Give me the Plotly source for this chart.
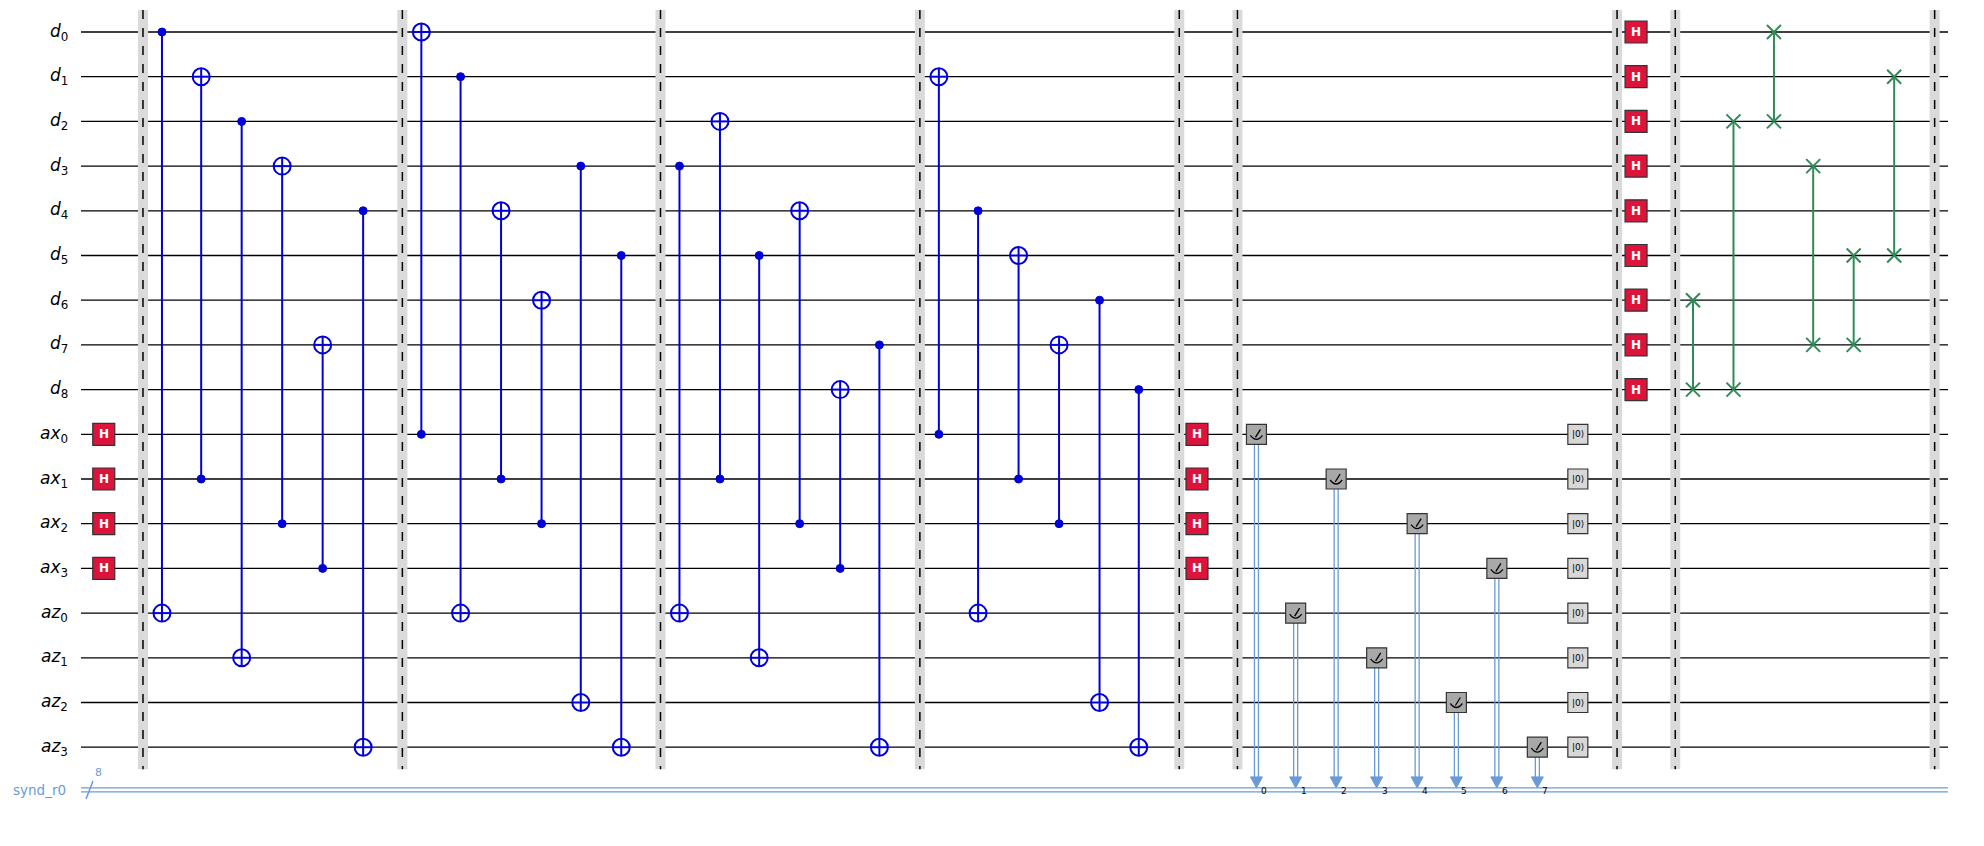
import plotly.graph_objects as go

# register layout
qubits = [f"d{i}" for i in range(9)] + [f"ax{i}" for i in range(4)] + [f"az{i}" for i in range(4)]
creg_name = "synd_r0"
creg_size = 8

# gate columns (x in display px of a 1568 wide render, scaled later)
h_first = [(82, q) for q in ["ax0", "ax1", "ax2", "ax3"]]
barriers = [113, 318, 522, 727, 932, 978, 1278, 1324, 1529]
# (x, control, target)
cnots = [
    (128, "d0", "az0"), (159, "ax1", "d1"), (191, "d2", "az1"), (223, "ax2", "d3"), (255, "ax3", "d7"), (287, "d4", "az3"),
    (333, "ax0", "d0"), (364, "d1", "az0"), (396, "ax1", "d4"), (428, "ax2", "d6"), (459, "d3", "az2"), (491, "d5", "az3"),
    (537, "d3", "az0"), (569, "ax1", "d2"), (600, "d5", "az1"), (632, "ax2", "d4"), (664, "ax3", "d8"), (695, "d7", "az3"),
    (742, "ax0", "d1"), (773, "d4", "az0"), (805, "ax1", "d5"), (837, "ax2", "d7"), (869, "d6", "az2"), (900, "d8", "az3"),
]
h_mid = [(946, q) for q in ["ax0", "ax1", "ax2", "ax3"]]
# (x, qubit, clbit)
measures = [(993, "ax0", 0), (1024, "az0", 1), (1056, "ax1", 2), (1088, "az1", 3),
            (1120, "ax2", 4), (1151, "az2", 5), (1183, "ax3", 6), (1215, "az3", 7)]
resets = [(1247, q) for q in ["ax0", "ax1", "ax2", "ax3", "az0", "az1", "az2", "az3"]]
h_last = [(1293, f"d{i}") for i in range(9)]
swaps = [(1338, "d6", "d8"), (1370, "d2", "d8"), (1402, "d0", "d2"),
         (1433, "d3", "d7"), (1465, "d5", "d7"), (1497, "d1", "d5")]

S = 1984 / 1568
Y0, DY = 32, 44.7
X_START, X_END = 81, 1948
Y_C = Y0 + DY * len(qubits) - 2
PAD = 8  # page body margin

def X(v):
    return v * S

def Y(q):
    return Y0 + DY * qubits.index(q)

BLUE = "#0000D8"
GREEN = "#2E8B57"
RED = "#DC143C"
CL = "#6A9BD8"

shapes = []
ann = []

def line(x0, y0, x1, y1, color="black", w=1.3, dash=None):
    shapes.append(dict(type="line", x0=x0, y0=y0, x1=x1, y1=y1,
                       line=dict(color=color, width=w, dash=dash), layer="above"))

def box(x, y, half, fill, border="#333333"):
    shapes.append(dict(type="rect", x0=x - half, y0=y - half, x1=x + half, y1=y + half,
                       fillcolor=fill, line=dict(color=border, width=1.2), layer="above"))

# wires
for q in qubits:
    line(X_START, Y(q), X_END, Y(q))
    sub = q[-1]
    ann.append(dict(x=70, y=Y(q), text=f"<i>{q[:-1]}</i><sub>{sub}</sub>", showarrow=False,
                    xanchor="right", font=dict(size=17, color="black")))

# classical register
line(X_START, Y_C - 2, X_END, Y_C - 2, CL, 1.3)
line(X_START, Y_C + 2, X_END, Y_C + 2, CL, 1.3)
line(86, Y_C + 9, 93, Y_C - 9, CL, 1.5)
ann.append(dict(x=98, y=Y_C - 17, text=str(creg_size), showarrow=False, font=dict(size=11, color=CL)))
ann.append(dict(x=68, y=Y_C, text=creg_name, showarrow=False, xanchor="right", font=dict(size=13.5, color=CL)))

# barriers
for b in barriers:
    x = X(b)
    shapes.append(dict(type="rect", x0=x - 5, x1=x + 5, y0=Y0 - 22, y1=Y(qubits[-1]) + 22,
                       fillcolor="#DADADA", line=dict(width=0), layer="above"))
    line(x, Y0 - 22, x, Y(qubits[-1]) + 22, "black", 1.5, "dash")

# H gates
for x, q in h_first + h_mid + h_last:
    box(X(x), Y(q), 11, RED)
    ann.append(dict(x=X(x), y=Y(q), text="<b>H</b>", showarrow=False, font=dict(size=12, color="white")))

# CNOTs
for x, c, t in cnots:
    xx = X(x)
    line(xx, Y(c), xx, Y(t), BLUE, 2)
    shapes.append(dict(type="circle", x0=xx - 4, x1=xx + 4, y0=Y(c) - 4, y1=Y(c) + 4,
                       fillcolor=BLUE, line=dict(color=BLUE, width=1), layer="above"))
    r = 8.5
    shapes.append(dict(type="circle", x0=xx - r, x1=xx + r, y0=Y(t) - r, y1=Y(t) + r,
                       fillcolor="white", line=dict(color=BLUE, width=2), layer="above"))
    line(xx - r, Y(t), xx + r, Y(t), BLUE, 2)
    line(xx, Y(t) - r, xx, Y(t) + r, BLUE, 2)

# measurements
for x, q, bit in measures:
    xx, yy = X(x), Y(q)
    line(xx - 2, yy + 10, xx - 2, Y_C - 12, CL, 1.3)
    line(xx + 2, yy + 10, xx + 2, Y_C - 12, CL, 1.3)
    shapes.append(dict(type="path", path=f"M {xx-6},{Y_C-13} L {xx+6},{Y_C-13} L {xx},{Y_C-2} Z",
                       fillcolor=CL, line=dict(color=CL, width=1), layer="above"))
    box(xx, yy, 10, "#A8A8A8")
    shapes.append(dict(type="path", path=f"M {xx-6},{yy+1} Q {xx},{yy+9} {xx+6},{yy+1}",
                       line=dict(color="black", width=1.3), layer="above"))
    line(xx - 1, yy + 3, xx + 4, yy - 5, "black", 1.3)
    ann.append(dict(x=xx + 8, y=Y_C + 1, text=str(bit), showarrow=False, font=dict(size=9, color="black")))

# resets
for x, q in resets:
    box(X(x), Y(q), 10, "#D8D8D8")
    ann.append(dict(x=X(x), y=Y(q), text="|0⟩", showarrow=False, font=dict(size=9, color="black")))

# swaps
for x, a, b in swaps:
    xx = X(x)
    line(xx, Y(a), xx, Y(b), GREEN, 2)
    for q in (a, b):
        yy = Y(q)
        line(xx - 7, yy - 7, xx + 7, yy + 7, GREEN, 2)
        line(xx - 7, yy + 7, xx + 7, yy - 7, GREEN, 2)

fig = go.Figure()
fig.update_layout(
    width=1984 - 2 * PAD, height=846 - 2 * PAD, margin=dict(l=0, r=0, t=0, b=0),
    plot_bgcolor="white", paper_bgcolor="white",
    xaxis=dict(range=[PAD, 1984 - PAD], visible=False, fixedrange=True),
    yaxis=dict(range=[846 - PAD, PAD], visible=False, fixedrange=True),
    shapes=shapes, annotations=ann, showlegend=False,
    font=dict(family="DejaVu Sans"),
)
fig.write_html("out.html")
